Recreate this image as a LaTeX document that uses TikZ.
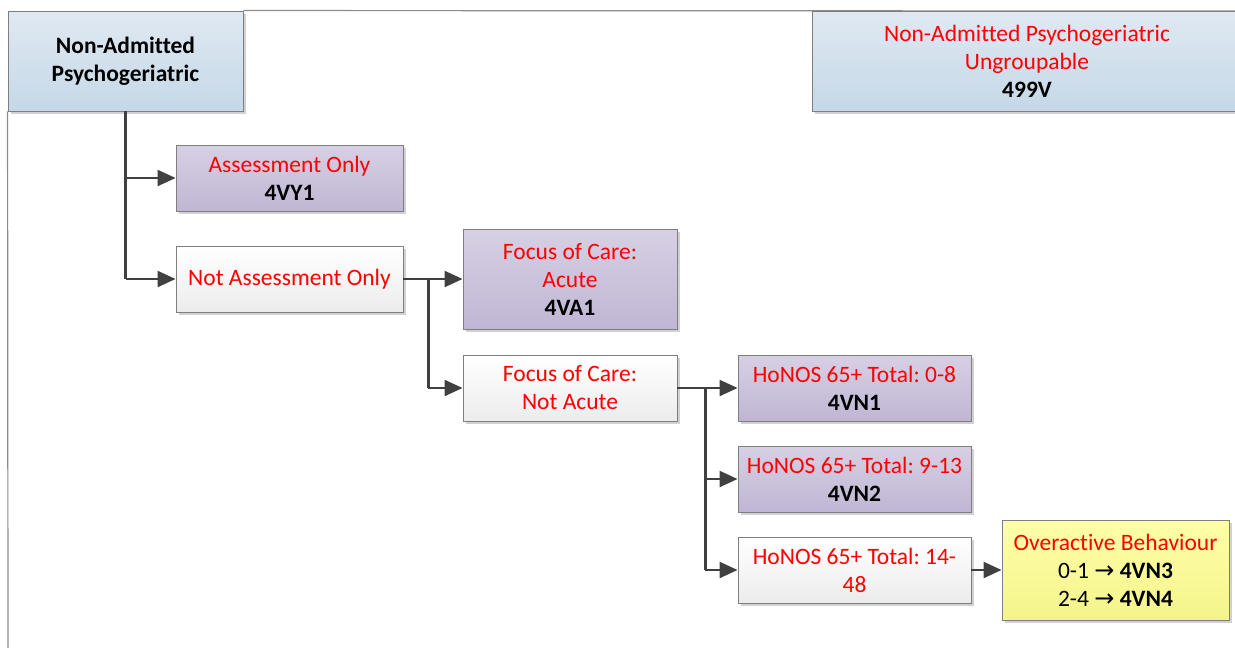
\documentclass[tikz,border=0pt]{standalone}
\usepackage{fontspec}
\setmainfont[Ligatures=NoCommon]{Carlito}
\newfontfamily\symfont{DejaVu Sans}
\usetikzlibrary{arrows.meta,shadows}
\frenchspacing

\definecolor{linegray}{HTML}{404040}
\definecolor{edgegray}{HTML}{7F7F7F}
\definecolor{framegray}{HTML}{8C8C8C}
\definecolor{txtred}{HTML}{FF0000}

\tikzset{
  box/.style={draw=edgegray, line width=0.9pt, rectangle, inner sep=0pt,
    align=center, font=\fontsize{23.5}{28}\selectfont,
    drop shadow={shadow xshift=2.5pt, shadow yshift=-2.5pt, opacity=0.18, fill=black}},
  bluebox/.style={box, top color={rgb,255:red,224;green,233;blue,242}, bottom color={rgb,255:red,197;green,216;blue,232}},
  purplebox/.style={box, top color={rgb,255:red,215;green,208;blue,228}, bottom color={rgb,255:red,192;green,182;blue,212}},
  whitebox/.style={box, top color=white, bottom color={rgb,255:red,236;green,236;blue,236}},
  yellowbox/.style={box, top color={rgb,255:red,255;green,255;blue,168}, bottom color={rgb,255:red,244;green,244;blue,140}},
  conn/.style={draw=linegray, line width=2.2pt},
  arr/.style={conn, -{Triangle[length=18pt, width=16pt]}},
  frame/.style={draw=framegray, line width=1.2pt}
}

\newcommand{\rd}[1]{\textcolor{txtred}{#1}}
\newcommand{\gives}{{\symfont\fontsize{24}{28}\selectfont →}}

\begin{document}
\begin{tikzpicture}[x=1pt, y=-1pt]
  \useasboundingbox (0,0) rectangle (1235,648);

  % outer frame lines
  \coordinate (frameTR) at (1235,11);
  \coordinate (frameBL) at (8,648);

  % boxes
  \node[bluebox, minimum width=235pt, minimum height=100pt] (root) at (125.5,61)
    {\textbf{Non-Admitted}\\\textbf{Psychogeriatric}};
  \draw[frame] (root.north east) -- (frameTR);
  \draw[frame] (root.south west) -- (frameBL);

  \node[bluebox, minimum width=430pt, minimum height=100pt] (ung) at (1027,61)
    {\rd{Non-Admitted Psychogeriatric}\\\rd{Ungroupable}\\\textbf{499V}};

  \node[purplebox, minimum width=227pt, minimum height=66pt] (ao) at (289.5,178)
    {\rd{Assessment Only}\\\textbf{4VY1}};
  \node[whitebox, minimum width=227pt, minimum height=66pt] (nao) at (289.5,279)
    {\rd{Not Assessment Only}};

  \node[purplebox, minimum width=214pt, minimum height=100pt] (acute) at (570,279)
    {\rd{Focus of Care:}\\\rd{Acute}\\\textbf{4VA1}};
  \node[whitebox, minimum width=214pt, minimum height=66pt] (nacute) at (570,388)
    {\rd{Focus of Care:}\\\rd{Not Acute}};

  \node[purplebox, minimum width=233pt, minimum height=66pt] (h1) at (854.5,388)
    {\rd{HoNOS 65+ Total: 0-8}\\\textbf{4VN1}};
  \node[purplebox, minimum width=233pt, minimum height=66pt] (h2) at (854.5,479)
    {\rd{HoNOS 65+ Total: 9-13}\\\textbf{4VN2}};
  \node[whitebox, minimum width=233pt, minimum height=66pt] (h3) at (854.5,570)
    {\rd{HoNOS 65+ Total: 14-}\\\rd{48}};

  \node[yellowbox, minimum width=227pt, minimum height=100pt] (over) at (1115.5,570)
    {\rd{Overactive Behaviour}\\0-1 \gives{} \textbf{4VN3}\\2-4 \gives{} \textbf{4VN4}};

  % connectors
  \draw[conn] (root.south) -- (root.south |- nao.west);
  \draw[arr] (root.south |- ao.west) -- (ao.west);
  \draw[arr] (root.south |- nao.west) -- (nao.west);

  \coordinate (j1) at ([xshift=25pt]nao.east);
  \draw[arr] (nao.east) -- (acute.west);
  \draw[conn] (j1) -- (j1 |- nacute.west);
  \draw[arr] (j1 |- nacute.west) -- (nacute.west);

  \coordinate (j2) at ([xshift=28pt]nacute.east);
  \draw[arr] (nacute.east) -- (h1.west);
  \draw[conn] (j2) -- (j2 |- h3.west);
  \draw[arr] (j2 |- h2.west) -- (h2.west);
  \draw[arr] (j2 |- h3.west) -- (h3.west);

  \draw[arr] (h3.east) -- (over.west);
\end{tikzpicture}
\end{document}
